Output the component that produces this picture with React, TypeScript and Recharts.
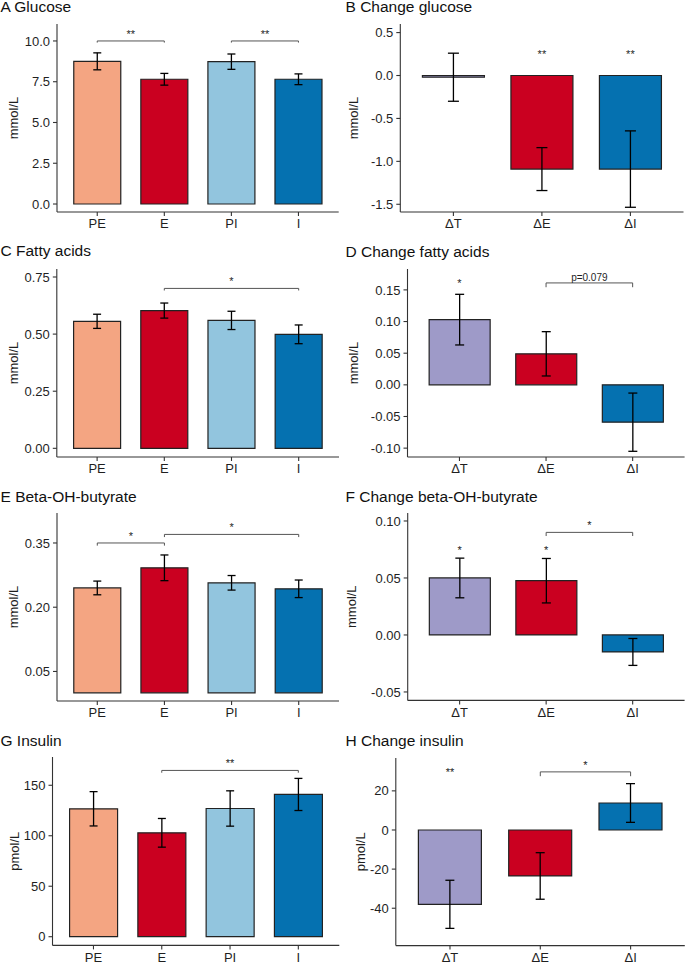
import React from 'react';
import { BarChart, Bar, XAxis, YAxis, ErrorBar, Cell, ReferenceLine, ReferenceDot } from 'recharts';

// ---------- DATA ----------
const groupCats = ['PE', 'E', 'PI', 'I'];
const deltaCats = ['ΔT', 'ΔE', 'ΔI'];
const groupColors = ['#F4A582', '#CA0020', '#92C5DE', '#0571B0'];
const deltaColors = ['#9E9AC8', '#CA0020', '#0571B0'];

const glucoseMean = [8.75, 7.65, 8.73, 7.65];
const glucoseSE = [0.52, 0.36, 0.47, 0.33];
const glucoseTicks = [0, 2.5, 5, 7.5, 10];

const dGlucoseMean = [-0.02, -1.09, -1.09];
const dGlucoseSE = [0.28, 0.25, 0.445];
const dGlucoseTicks = [-1.5, -1, -0.5, 0, 0.5];

const faMean = [0.556, 0.603, 0.56, 0.499];
const faSE = [0.031, 0.033, 0.04, 0.041];
const faTicks = [0, 0.25, 0.5, 0.75];

const dFaMean = [0.103, 0.049, -0.059];
const dFaSE = [0.04, 0.035, 0.046];
const dFaTicks = [-0.1, -0.05, 0, 0.05, 0.1, 0.15];

const bohbMean = [0.245, 0.292, 0.257, 0.243];
const bohbSE = [0.016, 0.03, 0.017, 0.0205];
const bohbTicks = [0.05, 0.2, 0.35];

const dBohbMean = [0.05, 0.0476, -0.0149];
const dBohbSE = [0.0174, 0.0195, 0.0118];
const dBohbTicks = [-0.05, 0, 0.05, 0.1];

const insMean = [126.7, 102.9, 127, 140.9];
const insSE = [17, 14.2, 17.5, 15.9];
const insTicks = [0, 50, 100, 150];

const dInsMean = [-38.0, -23.5, 13.8];
const dInsSE = [12.3, 11.9, 9.9];
const dInsTicks = [-40, -20, 0, 20];

type Bracket = { from: string; to: string; y: number; tip: number; label: string };
type Star = { x: string; y: number; label: string };

const glucoseBrackets: Bracket[] = [
  { from: 'PE', to: 'E', y: 10.0, tip: 0.1, label: '**' },
  { from: 'PI', to: 'I', y: 10.0, tip: 0.1, label: '**' },
];
const dGlucoseStars: Star[] = [
  { x: 'ΔE', y: 0.206, label: '**' },
  { x: 'ΔI', y: 0.206, label: '**' },
];
const faBrackets: Bracket[] = [{ from: 'E', to: 'I', y: 0.7, tip: 0.009, label: '*' }];
const dFaBrackets: Bracket[] = [{ from: 'ΔE', to: 'ΔI', y: 0.161, tip: 0.0068, label: 'p=0.079' }];
const dFaStars: Star[] = [{ x: 'ΔT', y: 0.155, label: '*' }];
const bohbBrackets: Bracket[] = [
  { from: 'PE', to: 'E', y: 0.35, tip: 0.0062, label: '*' },
  { from: 'E', to: 'I', y: 0.37, tip: 0.0062, label: '*' },
];
const dBohbBrackets: Bracket[] = [{ from: 'ΔE', to: 'ΔI', y: 0.09, tip: 0.0032, label: '*' }];
const dBohbStars: Star[] = [
  { x: 'ΔT', y: 0.0713, label: '*' },
  { x: 'ΔE', y: 0.0713, label: '*' },
];
const insBrackets: Bracket[] = [{ from: 'E', to: 'I', y: 164.7, tip: 2.3, label: '**' }];
const dInsBrackets: Bracket[] = [{ from: 'ΔE', to: 'ΔI', y: 29.7, tip: 2.2, label: '*' }];
const dInsStars: Star[] = [{ x: 'ΔT', y: 27.7, label: '**' }];

// ---------- LAYOUT ----------
const FONT = '"Liberation Sans", Arial, Helvetica, sans-serif';
type Geo = {
  left: number; width: number; axisX: number; plotRight: number;
  plotTop: number; plotBottom: number; labelX: number; capW: number; titleY: number;
};

type PanelDef = {
  title: string; unit: string; cats: string[]; colors: string[];
  means: number[]; se: number[]; domain: [number, number]; ticks: number[]; dec: number;
  brackets: Bracket[]; stars: Star[]; geo: Geo;
};

const panels: PanelDef[] = [
  {
    title: 'A Glucose', unit: 'mmol/L', cats: groupCats, colors: groupColors,
    means: glucoseMean, se: glucoseSE, domain: [-0.49, 11.04], ticks: glucoseTicks, dec: 1,
    brackets: glucoseBrackets, stars: [],
    geo: { left: 0, width: 340, axisX: 57, plotRight: 338.7, plotTop: 24, plotBottom: 212, labelX: 13, capW: 4, titleY: 12.3 },
  },
  {
    title: 'B Change glucose', unit: 'mmol/L', cats: deltaCats, colors: deltaColors,
    means: dGlucoseMean, se: dGlucoseSE, domain: [-1.59, 0.6], ticks: dGlucoseTicks, dec: 1,
    brackets: [], stars: dGlucoseStars,
    geo: { left: 340, width: 345, axisX: 400.3, plotRight: 683.5, plotTop: 24, plotBottom: 212, labelX: 13, capW: 5.5, titleY: 12.3 },
  },
  {
    title: 'C Fatty acids', unit: 'mmol/L', cats: groupCats, colors: groupColors,
    means: faMean, se: faSE, domain: [-0.038, 0.785], ticks: faTicks, dec: 2,
    brackets: faBrackets, stars: [],
    geo: { left: 0, width: 340, axisX: 56.8, plotRight: 339, plotTop: 269.3, plotBottom: 457.3, labelX: 13, capW: 4, titleY: 256 },
  },
  {
    title: 'D Change fatty acids', unit: 'mmol/L', cats: deltaCats, colors: deltaColors,
    means: dFaMean, se: dFaSE, domain: [-0.114, 0.183], ticks: dFaTicks, dec: 2,
    brackets: dFaBrackets, stars: dFaStars,
    geo: { left: 340, width: 345, axisX: 407.5, plotRight: 684.6, plotTop: 269.3, plotBottom: 457.3, labelX: 13, capW: 4.5, titleY: 256.5 },
  },
  {
    title: 'E Beta-OH-butyrate', unit: 'mmol/L', cats: groupCats, colors: groupColors,
    means: bohbMean, se: bohbSE, domain: [-0.019, 0.42], ticks: bohbTicks, dec: 2,
    brackets: bohbBrackets, stars: [],
    geo: { left: 0, width: 340, axisX: 57, plotRight: 339, plotTop: 512.7, plotBottom: 700.7, labelX: 13, capW: 4, titleY: 501.7 },
  },
  {
    title: 'F Change beta-OH-butyrate', unit: 'mmol/L', cats: deltaCats, colors: deltaColors,
    means: dBohbMean, se: dBohbSE, domain: [-0.0574, 0.107], ticks: dBohbTicks, dec: 2,
    brackets: dBohbBrackets, stars: dBohbStars,
    geo: { left: 340, width: 345, axisX: 407.7, plotRight: 684.6, plotTop: 513.3, plotBottom: 700.7, labelX: 12, capW: 4.5, titleY: 501.7 },
  },
  {
    title: 'G Insulin', unit: 'pmol/L', cats: groupCats, colors: groupColors,
    means: insMean, se: insSE, domain: [-8.6, 178], ticks: insTicks, dec: 0,
    brackets: insBrackets, stars: [],
    geo: { left: 0, width: 340, axisX: 52.5, plotRight: 339.3, plotTop: 757.3, plotBottom: 945.7, labelX: 14.3, capW: 4, titleY: 746 },
  },
  {
    title: 'H Change insulin', unit: 'pmol/L', cats: deltaCats, colors: deltaColors,
    means: dInsMean, se: dInsSE, domain: [-59.1, 36.8], ticks: dInsTicks, dec: 0,
    brackets: dInsBrackets, stars: dInsStars,
    geo: { left: 340, width: 345, axisX: 395.8, plotRight: 684.8, plotTop: 757.7, plotBottom: 945.3, labelX: 20, capW: 4.5, titleY: 746 },
  },
];

const MT = 6;
const XH = 30;
const AXIS = '#333333';
const TXT = '#1f1f1f';

function Panel({ p }: { p: PanelDef }) {
  const g = p.geo;
  const plotH = g.plotBottom - g.plotTop;
  const height = MT + plotH + XH;
  const chartTop = g.plotTop - MT;
  const n = p.cats.length;
  const spacing = (g.plotRight - g.axisX) / (n + 0.2);
  const pad = 0.1 * spacing;
  const data = p.cats.map((c, i) => ({ cat: c, mean: p.means[i], se: p.se[i] }));
  const labelY = MT + plotH / 2;
  const tickStyle = { fill: TXT, fontSize: 13, fontFamily: FONT };

  return (
    <div style={{ position: 'absolute', left: g.left, top: chartTop }}>
      <BarChart
        width={g.width}
        height={height}
        data={data}
        margin={{ top: MT, right: g.left + g.width - g.plotRight, bottom: 0, left: 0 }}
        barCategoryGap="15%"
      >
        <XAxis
          dataKey="cat"
          type="category"
          padding={{ left: pad, right: pad }}
          height={XH}
          tick={tickStyle}
          tickSize={4}
          tickMargin={3}
          axisLine={{ stroke: AXIS, strokeWidth: 1.1 }}
          tickLine={{ stroke: AXIS, strokeWidth: 1.1 }}
          interval={0}
        />
        <YAxis
          type="number"
          width={g.axisX - g.left}
          domain={p.domain}
          ticks={p.ticks}
          allowDataOverflow
          interval={0}
          tickFormatter={(v: number) => v.toFixed(p.dec)}
          tick={tickStyle}
          tickSize={4}
          tickMargin={3}
          axisLine={{ stroke: AXIS, strokeWidth: 1.1 }}
          tickLine={{ stroke: AXIS, strokeWidth: 1.1 }}
          label={() => (
            <text
              x={g.labelX}
              y={labelY}
              transform={`rotate(-90 ${g.labelX} ${labelY})`}
              textAnchor="middle"
              dominantBaseline="central"
              fontSize={13}
              fontFamily={FONT}
              fill={TXT}
            >
              {p.unit}
            </text>
          )}
        />
        <Bar dataKey="mean" isAnimationActive={false} stroke="#222" strokeWidth={1.2}>
          {data.map((d, i) => (
            <Cell key={d.cat} fill={p.colors[i]} />
          ))}
          <ErrorBar dataKey="se" width={g.capW} stroke="#000" strokeWidth={1.3} direction="y" isAnimationActive={false} />
        </Bar>
        {p.brackets.map((b, i) => [
          <ReferenceLine
            key={`bh${i}`}
            segment={[{ x: b.from, y: b.y }, { x: b.to, y: b.y }]}
            stroke="#555"
            strokeWidth={1}
            ifOverflow="visible"
            label={{
              value: b.label,
              position: 'top',
              offset: b.label.startsWith('p') ? 1.5 : 3,
              fontSize: b.label.startsWith('p') ? 10 : 11,
              fill: TXT,
              fontFamily: FONT,
            }}
          />,
          <ReferenceLine
            key={`bl${i}`}
            segment={[{ x: b.from, y: b.y }, { x: b.from, y: b.y - b.tip }]}
            stroke="#555"
            strokeWidth={1}
            ifOverflow="visible"
          />,
          <ReferenceLine
            key={`br${i}`}
            segment={[{ x: b.to, y: b.y }, { x: b.to, y: b.y - b.tip }]}
            stroke="#555"
            strokeWidth={1}
            ifOverflow="visible"
          />,
        ])}
        {p.stars.map((s, i) => (
          <ReferenceDot
            key={`s${i}`}
            x={s.x}
            y={s.y}
            r={0}
            fill="none"
            stroke="none"
            ifOverflow="visible"
            label={{ value: s.label, position: 'top', offset: 0, fontSize: 11, fill: TXT, fontFamily: FONT }}
          />
        ))}
      </BarChart>
    </div>
  );
}

export default function App() {
  return (
    <div style={{ position: 'absolute', left: 0, top: 0, width: 685, height: 962, background: '#fff', fontFamily: FONT }}>
      {panels.map((p) => (
        <Panel key={p.title} p={p} />
      ))}
      <svg width={685} height={962} style={{ position: 'absolute', left: 0, top: 0, pointerEvents: 'none' }}>
        {panels.map((p) => (
          <text
            key={p.title}
            x={p.geo.left === 0 ? 0.5 : 345.5}
            y={p.geo.titleY}
            fontSize={15.5}
            fontFamily={FONT}
            fill="#111"
          >
            {p.title}
          </text>
        ))}
      </svg>
    </div>
  );
}
